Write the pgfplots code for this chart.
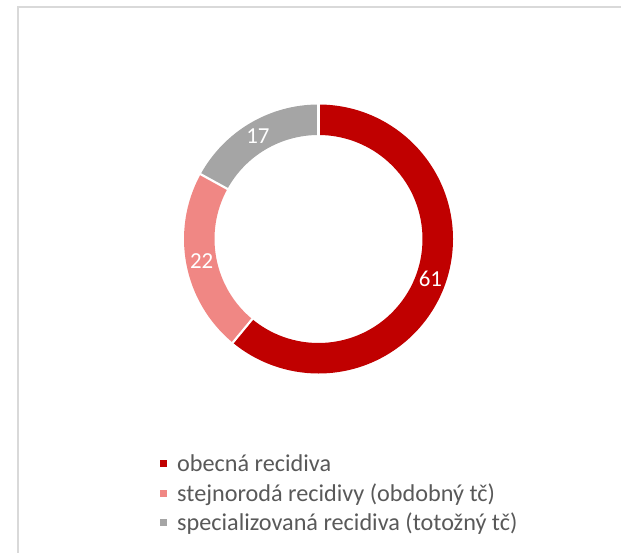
\documentclass[border=0pt]{standalone}
\usepackage{pgfplots}
\usepackage{pgfplotstable}
\pgfplotsset{compat=1.18}
\usepackage{fontspec}
\setmainfont{Carlito}
\definecolor{cA}{HTML}{C00000}
\definecolor{cB}{HTML}{F08784}
\definecolor{cC}{HTML}{A5A5A5}
\definecolor{txt}{HTML}{595959}
\definecolor{frm}{HTML}{D9D9D9}

\pgfplotstableread[col sep=comma]{
name,value
obecná recidiva,61
stejnorodá recidivy (obdobný tč),22
specializovaná recidiva (totožný tč),17
}\data

\newcommand\seg[3]{\fill[#3] ([shift={(#1:134.5bp)}]axis cs:318.5,239) arc[start angle=#1,end angle=#2,radius=134.5bp] -- ([shift={(#2:104bp)}]axis cs:318.5,239) arc[start angle=#2,end angle=#1,radius=104bp] -- cycle;}
\newcommand\sep[1]{\draw[white,line width=2.2bp] ([shift={(#1:100bp)}]axis cs:318.5,239) -- ([shift={(#1:138bp)}]axis cs:318.5,239);}

\begin{document}
\begin{tikzpicture}
\pgfplotstablegetelem{0}{value}\of\data \let\vA\pgfplotsretval
\pgfplotstablegetelem{1}{value}\of\data \let\vB\pgfplotsretval
\pgfplotstablegetelem{2}{value}\of\data \let\vC\pgfplotsretval
\pgfplotstablegetelem{0}{name}\of\data \let\nA\pgfplotsretval
\pgfplotstablegetelem{1}{name}\of\data \let\nB\pgfplotsretval
\pgfplotstablegetelem{2}{name}\of\data \let\nC\pgfplotsretval
\pgfmathsetmacro\tot{\vA+\vB+\vC}
\pgfmathsetmacro\k{360/\tot}
\pgfmathsetmacro\aA{90}
\pgfmathsetmacro\aB{\aA-\k*\vA}
\pgfmathsetmacro\aC{\aB-\k*\vB}
\pgfmathsetmacro\aD{\aC-\k*\vC}
\pgfmathsetmacro\mA{(\aA+\aB)/2}
\pgfmathsetmacro\mB{(\aB+\aC)/2}
\pgfmathsetmacro\mC{(\aC+\aD)/2}
\path[use as bounding box] (0,0) rectangle (621bp,553bp);
\begin{axis}[at={(0,0)}, anchor=south west, width=621bp, height=553bp, scale only axis,
  xmin=0, xmax=621, ymin=0, ymax=553, y dir=reverse, hide axis, clip=false]
\draw[frm, line width=2bp] (axis cs:18.3,560) -- (axis cs:18.3,7) -- (axis cs:630,7);
\seg{\aA}{\aB}{cA}
\seg{\aB}{\aC}{cB}
\seg{\aC}{\aD}{cC}
\sep{\aA}
\sep{\aB}
\sep{\aC}
\node[white, font=\fontsize{23}{27}\selectfont] at ([shift={(\mA:119bp)}]axis cs:318.5,239) {\vA};
\node[white, font=\fontsize{23}{27}\selectfont] at ([shift={(\mB:119bp)}]axis cs:318.5,239) {\vB};
\node[white, font=\fontsize{23}{27}\selectfont] at ([shift={(\mC:119bp)}]axis cs:318.5,239) {\vC};
\fill[cA] (axis cs:160,460) rectangle (axis cs:167,467);
\fill[cB] (axis cs:160,489.5) rectangle (axis cs:167,496.5);
\fill[cC] (axis cs:160,519) rectangle (axis cs:167,526);
\node[anchor=base west, inner sep=0, txt, font=\fontsize{24.3}{29}\selectfont] at (axis cs:177,471.5) {\nA};
\node[anchor=base west, inner sep=0, txt, font=\fontsize{24.3}{29}\selectfont] at (axis cs:177,501) {\nB};
\node[anchor=base west, inner sep=0, txt, font=\fontsize{24.3}{29}\selectfont] at (axis cs:177,530.5) {\nC};
\end{axis}
\end{tikzpicture}
\end{document}
